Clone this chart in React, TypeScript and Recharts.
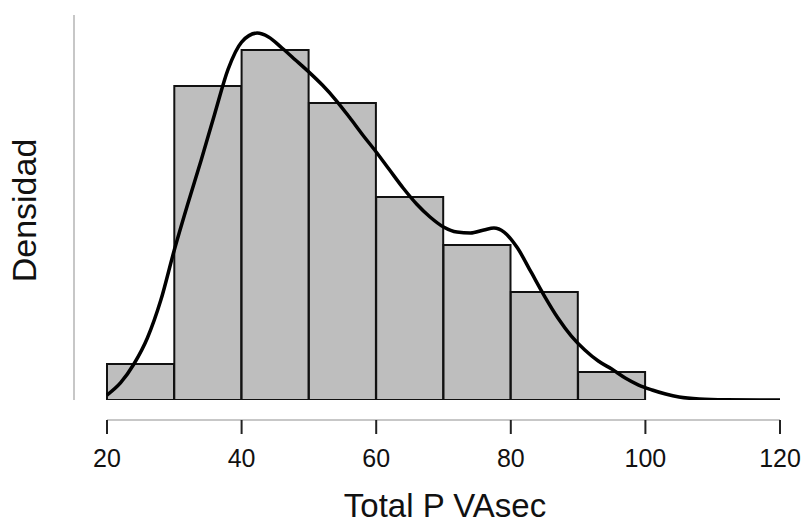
import {
  ComposedChart, Bar, Line, XAxis, YAxis, ReferenceLine,
} from 'recharts';

// histogram bins (width 10); the last two are empty, they only fill the axis to 120
const BIN_LABELS = ['20-30', '30-40', '40-50', '50-60', '60-70', '70-80', '80-90', '90-100', '100-110', '110-120'];
const BIN_DENSITY = [0.00241, 0.02102, 0.02343, 0.01988, 0.01359, 0.01037, 0.00723, 0.00187, null, null];

// kernel density estimate
const CURVE_X = [20, 22, 24, 26, 28, 30, 32, 34, 36, 38, 40, 42.3, 44, 46, 48, 50, 52, 54, 56, 58, 60, 62, 64, 66, 68, 70, 72, 74, 76, 77.5, 79, 81, 83, 85, 87, 89, 91, 93, 95, 97, 99, 101, 103, 105, 108, 112, 120];
const CURVE_Y = [0.00033, 0.00114, 0.00241, 0.00415, 0.00669, 0.01004, 0.01312, 0.01606, 0.01915, 0.02215, 0.02396, 0.02456, 0.0243, 0.02356, 0.02276, 0.02195, 0.02108, 0.02008, 0.01894, 0.01774, 0.0166, 0.01539, 0.01419, 0.01312, 0.01225, 0.01158, 0.01124, 0.01118, 0.01138, 0.01151, 0.01124, 0.01017, 0.00857, 0.00696, 0.00549, 0.00428, 0.00335, 0.00261, 0.00207, 0.00147, 0.001, 0.00067, 0.0004, 0.0002, 0.00007, 0.00002, 0];

const X_TICKS = [20, 40, 60, 80, 100, 120];
const Y_MAX = 0.02577;

const FONT = '"Liberation Sans", Arial, sans-serif';
const AXIS_GRAY = '#b4b4b4';

const bars = BIN_LABELS.map((bin, i) => ({ bin, density: BIN_DENSITY[i] }));
const curve = CURVE_X.map((x, i) => ({ x, y: CURVE_Y[i] }));

function Tick({ x, y, payload }: any) {
  return (
    <g>
      <line x1={x} x2={x} y1={y + 20} y2={y + 34} stroke="#222" strokeWidth={2} />
      <text x={x} y={y + 67} textAnchor="middle" fontSize={25} fontFamily={FONT} fill="#111">
        {payload.value}
      </text>
    </g>
  );
}

function XTitle() {
  return (
    <text x={445} y={517} textAnchor="middle" fontSize={33} fontFamily={FONT} fill="#111">
      Total P VAsec
    </text>
  );
}

function YTitle({ viewBox }: any) {
  const cx = 36;
  const cy = viewBox.y + viewBox.height / 2 + 3;
  return (
    <text x={cx} y={cy} transform={`rotate(-90, ${cx}, ${cy})`} textAnchor="middle" fontSize={34} fontFamily={FONT} fill="#111">
      Densidad
    </text>
  );
}

export default function App() {
  return (
    <div style={{ position: 'absolute', left: 0, top: 0, background: '#fff' }}>
      <ComposedChart
        width={807}
        height={525}
        data={bars}
        margin={{ top: 15, right: 27, left: 0, bottom: 0 }}
        barCategoryGap={0}
        barGap={0}
      >
        <XAxis xAxisId="cat" dataKey="bin" type="category" hide height={0} padding={{ left: 33, right: 0 }} />
        <XAxis
          xAxisId="num"
          dataKey="x"
          type="number"
          domain={[20, 120]}
          ticks={X_TICKS}
          padding={{ left: 33, right: 0 }}
          height={125}
          axisLine={false}
          tickLine={false}
          tickSize={0}
          tickMargin={0}
          tick={<Tick />}
          label={<XTitle />}
        />
        <YAxis
          domain={[0, Y_MAX]}
          allowDataOverflow
          width={74}
          tick={false}
          tickLine={false}
          axisLine={{ stroke: AXIS_GRAY, strokeWidth: 1.5 }}
          label={<YTitle />}
        />
        <ReferenceLine
          xAxisId="num"
          segment={[{ x: 20, y: -0.00134 }, { x: 120, y: -0.00134 }]}
          stroke={AXIS_GRAY}
          strokeWidth={1.5}
          ifOverflow="visible"
        />
        <Bar xAxisId="cat" dataKey="density" fill="#bebebe" stroke="#111" strokeWidth={2} isAnimationActive={false} />
        <Line
          xAxisId="num"
          data={curve}
          dataKey="y"
          type="monotone"
          stroke="#000"
          strokeWidth={3.5}
          dot={false}
          isAnimationActive={false}
        />
      </ComposedChart>
    </div>
  );
}
